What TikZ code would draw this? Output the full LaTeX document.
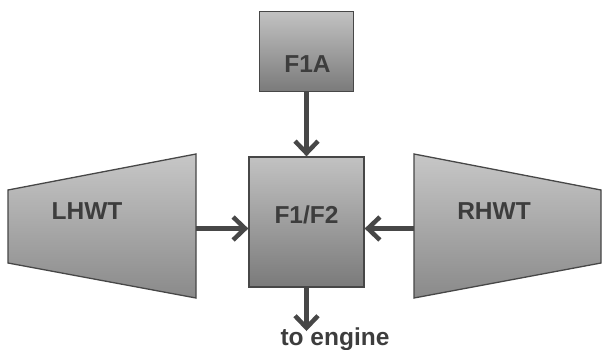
\documentclass[tikz,border=0pt]{standalone}
\usepackage{fontspec}
\setmainfont{Liberation Sans}
\usetikzlibrary{arrows.meta}
\begin{document}
\begin{tikzpicture}[x=1pt, y=-1pt,
        box/.style={draw=black!72, line width=1.3pt, top color=black!24, bottom color=black!52, minimum width=94pt, minimum height=80pt, inner sep=0pt},
        tank/.style={draw=black!72, line width=1.3pt, top color=black!22, bottom color=black!46},
        lbl/.style={text=black!76, font=\fontsize{24.5}{28}\selectfont\bfseries, anchor=base, inner sep=0pt},
        flow/.style={draw=black!72, line width=4.5pt, -{Straight Barb[length=12pt, width=23pt]}}]
        \useasboundingbox (0,0) rectangle (602,349);

        % Tanks
        \draw[tank] (8,190) -- (196,154) -- (196,298) -- (8,263) -- cycle;
        \draw[tank] (601,190) -- (414,154) -- (414,298) -- (601,263) -- cycle;
        \coordinate (lhwt-out) at (196,228.5);
        \coordinate (rhwt-out) at (414,228.5);

        % Nodes
        \node[box] at (306.5, 51.5)  (f1a)    {};
        \node[box, minimum width=115pt, minimum height=130pt] at (306.5, 222)  (f1f2)    {};
        \coordinate (engine-in) at (306.5, 331);

        % Labels
        \node[lbl] at (307.5, 72)  (f1a-txt)    {F1A};
        \node[lbl] at (306.5, 223)  (f1f2-txt)    {F1/F2};
        \node[lbl] at (87, 219.5)  (lhwt)    {LHWT};
        \node[lbl] at (494, 219.5)  (rhwt)    {RHWT};
        \node[lbl] at (335, 345)  (engine)    {to engine};

        \draw[flow]  (f1a.south) -- (f1f2.north);
        \draw[flow]  (lhwt-out) -- (lhwt-out -| f1f2.west);
        \draw[flow]  (rhwt-out) -- (rhwt-out -| f1f2.east);
        \draw[flow]  (f1f2.south) -- (engine-in);
    \end{tikzpicture}
\end{document}
